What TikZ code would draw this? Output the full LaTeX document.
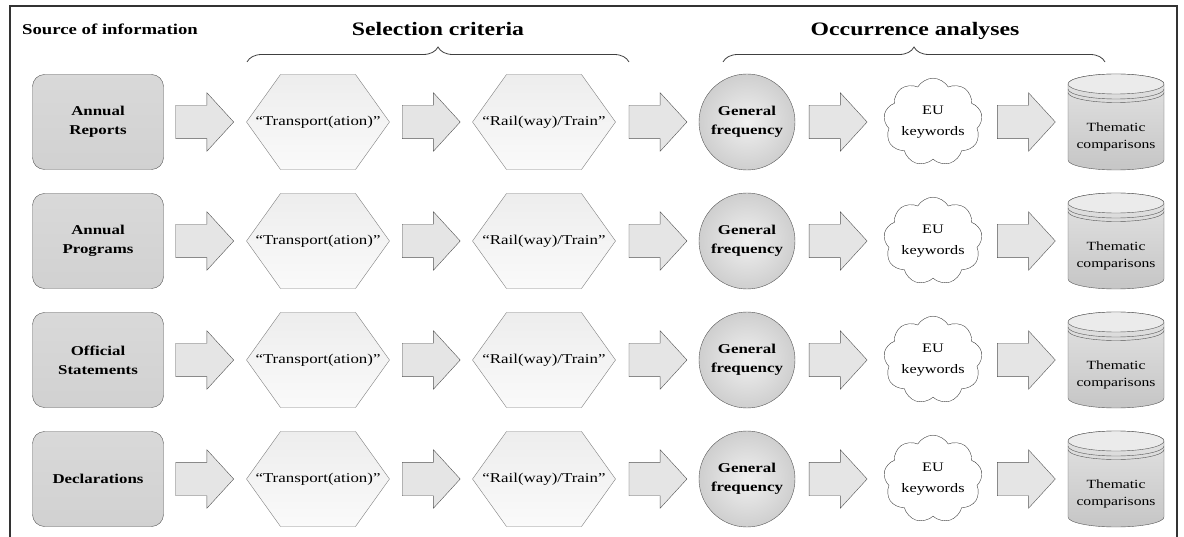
\documentclass[tikz,border=0pt]{standalone}
\usepackage{fontspec}
\setmainfont{Liberation Serif}[FakeStretch=1.25]
\usetikzlibrary{calc,shapes.geometric,shapes.arrows,shapes.symbols,decorations.pathreplacing}
\definecolor{edgegray}{HTML}{555555}
\definecolor{lightedge}{HTML}{808080}

\begin{document}
\begin{tikzpicture}[x=1pt,y=1pt,
  nodetext/.style={font=\fontsize{13.5}{19}\selectfont, align=center, inner sep=0pt},
  srcbox/.style={nodetext, font=\fontsize{13.5}{19}\selectfont\bfseries, draw=edgegray, rounded corners=12pt,
    minimum width=131pt, minimum height=95pt, top color=gray!30, middle color=gray!8, bottom color=gray!36},
  criterion/.style={nodetext, minimum width=145pt, minimum height=97pt,
    path picture={
      \coordinate (hc) at (path picture bounding box.center);
      \shadedraw[draw=lightedge, top color=gray!14, bottom color=gray!4]
        ($(hc)+(-71.5pt,0)$) -- ($(hc)+(-37.5pt,47.5pt)$) -- ($(hc)+(37.5pt,47.5pt)$) -- ($(hc)+(71.5pt,0)$)
        -- ($(hc)+(37.5pt,-47.5pt)$) -- ($(hc)+(-37.5pt,-47.5pt)$) -- cycle;
    }},
  freqball/.style={nodetext, font=\fontsize{13.5}{19}\selectfont\bfseries, circle, draw=edgegray,
    minimum size=96pt, inner color=gray!12, outer color=gray!38},
  keycloud/.style={nodetext, font=\fontsize{13}{21}\selectfont, cloud, cloud puffs=9,
    cloud puff arc=120, aspect=1.2, draw=black!75, fill=white, minimum width=98pt, minimum height=80pt},
  themecyl/.style={nodetext, font=\fontsize{12.5}{17}\selectfont, text width=84pt, minimum width=98pt,
    minimum height=128pt,
    path picture={
      \coordinate (cc) at ($(path picture bounding box.center)+(0,15pt)$);
      \shadedraw[draw=edgegray, top color=gray!22, bottom color=gray!45]
        ($(cc)+(-48pt,38pt)$) -- ($(cc)+(-48pt,-38pt)$) arc[start angle=180, end angle=360, x radius=48pt, y radius=10pt]
        -- ($(cc)+(48pt,38pt)$) arc[start angle=0, end angle=180, x radius=48pt, y radius=10pt] -- cycle;
      \draw[edgegray, fill=gray!16] ($(cc)+(0,38pt)$) ellipse[x radius=48pt, y radius=10pt];
      \draw[edgegray] ($(cc)+(-48pt,33pt)$) arc[start angle=180, end angle=360, x radius=48pt, y radius=10pt];
      \draw[edgegray] ($(cc)+(-48pt,29.5pt)$) arc[start angle=180, end angle=360, x radius=48pt, y radius=10pt];
    }},
  blockarrow/.style={single arrow, anchor=tail, draw=edgegray, inner xsep=0pt, inner ysep=0pt, text height=16.5pt,
    text depth=16.5pt, minimum height=58pt, single arrow head extend=12.5pt, single arrow tip angle=95,
    single arrow head indent=0pt, top color=gray!20, middle color=gray!4, bottom color=gray!20},
  headfont/.style={font=\fontsize{19}{22}\selectfont\bfseries, inner sep=0pt},
  groupbrace/.style={draw=black!75, thick, decorate, decoration={brace, amplitude=15pt}}
]
\useasboundingbox (0,0) rectangle (1184,-537);
% frame, open at the bottom
\draw[black!80, line width=1.2pt] (10,-537) -- (10,-6) -- (1177,-6) -- (1177,-537);

% column headings
\node[font=\fontsize{15}{18}\selectfont\bfseries, inner sep=0pt, anchor=base west] (srchead) at (22,-35) {Source of information};
\node[headfont, anchor=base] (selhead) at (438,-36) {Selection criteria};
\node[headfont, anchor=base] (occhead) at (915,-36) {Occurrence analyses};
\draw[groupbrace] (247,-62) -- (629,-62);
\draw[groupbrace] (723,-62) -- (1105,-62);

% one row for each source
\foreach \src [count=\i] in {{Annual\\Reports},{Annual\\Programs},{Official\\Statements},{Declarations}} {
  \pgfmathsetmacro{\yy}{-122-119*(\i-1)}
  \node[srcbox] (src\i) at (98,\yy) {\src};
  \node[criterion] (tr\i) at (318,\yy) {“Transport(ation)”};
  \node[criterion] (rw\i) at (544,\yy) {“Rail(way)/Train”};
  \node[freqball] (gf\i) at (747,\yy) {General\\frequency};
  \node[keycloud] (eu\i) at (933,\yy) {\shortstack{EU\\[9pt]keywords}};
  \node[themecyl] (tc\i) at (1116,\yy-15) {Thematic comparisons};
  \node[blockarrow] (ar\i a) at ($(src\i.east)!0.5!(tr\i.west)+(-29pt,0)$) {};
  \node[blockarrow] (ar\i b) at ($(tr\i.east)!0.5!(rw\i.west)+(-29pt,0)$) {};
  \node[blockarrow] (ar\i c) at ($(rw\i.east)!0.5!(gf\i.west)+(-29pt,0)$) {};
  \node[blockarrow] (ar\i d) at ($(gf\i.east)!0.5!(eu\i.west)+(-31pt,0)$) {};
  \node[blockarrow] (ar\i e) at ($(eu\i.east)!0.5!(tc\i.west |- eu\i)+(-27pt,0)$) {};
}
\end{tikzpicture}
\end{document}
